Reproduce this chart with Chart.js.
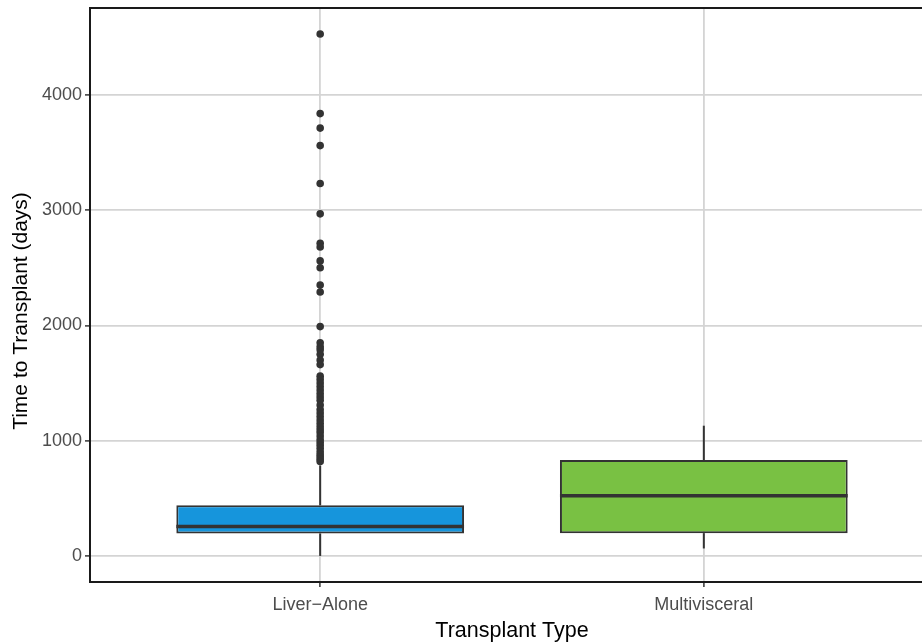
<!DOCTYPE html>
<html>
<head>
<meta charset="utf-8">
<script src="https://cdn.jsdelivr.net/npm/chart.js@4/dist/chart.umd.min.js"></script>
<style>
  html, body { margin: 0; padding: 0; background: #ffffff; overflow: hidden; }
  #wrap { width: 940px; height: 644px; }
</style>
</head>
<body>
<div id="wrap"><canvas id="chart" width="940" height="644"></canvas></div>
<script>
// Box-plot summary per transplant type
const categories   = ['Liver\u2212Alone', 'Multivisceral'];
const boxFill      = ['#1695dc', '#79c143'];
const lowerWhisker = [0, 65];
const q1           = [195, 198];
const median       = [255, 522];
const q3           = [440, 832];
const upperWhisker = [785, 1130];

// Individual outlying waits (days), Liver-Alone group
const liverOutliers = [4528, 3838, 3712, 3560, 3232, 2968, 2712, 2680, 2560, 2500,
  2350, 2290, 1990, 1850, 1815, 1790, 1750, 1700, 1660, 1560, 1530, 1500, 1470,
  1440, 1410, 1380, 1350, 1310, 1270, 1240, 1210, 1180, 1150, 1120, 1095, 1070,
  1040, 1010, 985, 960, 935, 905, 880, 860, 840, 820];

const yTicks = [0, 1000, 2000, 3000, 4000];
const yTitle = 'Time to Transplant (days)';

const INK = '#333333';
const FONT = 'Liberation Sans, Arial, sans-serif';
const BOX_HALF = 0.375;

const datasets = [];

// outliers on top
datasets.push({
  type: 'scatter',
  data: liverOutliers.map(v => ({ x: 1, y: v })),
  backgroundColor: INK,
  borderWidth: 0,
  pointRadius: 3.8,
  order: 0
});

categories.forEach((c, i) => {
  const x = i + 1;
  // median line
  datasets.push({
    type: 'line',
    data: [{ x: x - BOX_HALF, y: median[i] }, { x: x + BOX_HALF, y: median[i] }],
    borderColor: INK, borderWidth: 3.5, pointRadius: 0, fill: false,
    borderCapStyle: 'butt', order: 1
  });
  // whiskers
  datasets.push({
    type: 'line',
    data: [{ x: x, y: lowerWhisker[i] }, { x: x, y: q1[i] }],
    borderColor: INK, borderWidth: 2, pointRadius: 0, fill: false, order: 5
  });
  datasets.push({
    type: 'line',
    data: [{ x: x, y: q3[i] }, { x: x, y: upperWhisker[i] }],
    borderColor: INK, borderWidth: 2, pointRadius: 0, fill: false, order: 5
  });
});

// interquartile boxes
datasets.push({
  type: 'bar',
  data: categories.map((c, i) => ({ x: i + 1, y: [q1[i], q3[i]] })),
  backgroundColor: boxFill,
  borderColor: INK,
  borderWidth: 2,
  borderSkipped: false,
  categoryPercentage: 1,
  barPercentage: 0.75,
  order: 3
});

// panel border plus the rotated y-axis title
const panelFrame = {
  id: 'panelFrame',
  afterDatasetsDraw(chart) {
    const { ctx, chartArea: a } = chart;
    ctx.save();
    ctx.strokeStyle = '#1a1a1a';
    ctx.lineWidth = 2;
    ctx.strokeRect(a.left, a.top, a.right - a.left, a.bottom - a.top);
    ctx.restore();
  },
  afterDraw(chart) {
    const { ctx } = chart;
    ctx.save();
    ctx.translate(21, 311);
    ctx.rotate(-Math.PI / 2);
    ctx.fillStyle = '#000000';
    ctx.font = '21px ' + FONT;
    ctx.textAlign = 'center';
    ctx.textBaseline = 'middle';
    ctx.fillText(yTitle, 0, 0);
    ctx.restore();
  }
};

new Chart(document.getElementById('chart'), {
  type: 'bar',
  data: { datasets },
  plugins: [panelFrame],
  options: {
    responsive: false,
    animation: false,
    devicePixelRatio: 1,
    layout: { autoPadding: false, padding: { top: 8, right: 6, bottom: 0, left: 0 } },
    plugins: { legend: { display: false }, tooltip: { enabled: false } },
    scales: {
      x: {
        type: 'linear',
        min: 0.4,
        max: 2.6,
        offset: false,
        afterBuildTicks: axis => { axis.ticks = categories.map((c, i) => ({ value: i + 1 })); },
        afterFit: axis => { axis.height = 62; axis.paddingLeft = 0; axis.paddingRight = 0; },
        ticks: {
          callback: (v, i) => categories[i],
          autoSkip: false, maxRotation: 0,
          color: '#4d4d4d', font: { family: FONT, size: 18 }, padding: 7
        },
        grid: {
          offset: false, color: '#d4d4d4', lineWidth: 1.8,
          tickColor: INK, tickLength: 5, tickWidth: 1.5
        },
        border: { display: false },
        title: {
          display: true, text: 'Transplant Type', color: '#000000',
          font: { family: FONT, size: 21.5 }, padding: { top: 0, bottom: 0 }
        }
      },
      y: {
        type: 'linear',
        min: -226,
        max: 4754,
        afterBuildTicks: axis => { axis.ticks = yTicks.map(v => ({ value: v })); },
        afterFit: axis => { axis.width = 90; axis.paddingTop = 0; axis.paddingBottom = 0; },
        ticks: {
          callback: v => String(v),
          color: '#4d4d4d', font: { family: FONT, size: 18 }, padding: 3
        },
        grid: {
          color: '#d4d4d4', lineWidth: 1.8,
          tickColor: INK, tickLength: 5, tickWidth: 1.5
        },
        border: { display: false },
        title: { display: false }
      }
    }
  }
});
</script>
</body>
</html>
